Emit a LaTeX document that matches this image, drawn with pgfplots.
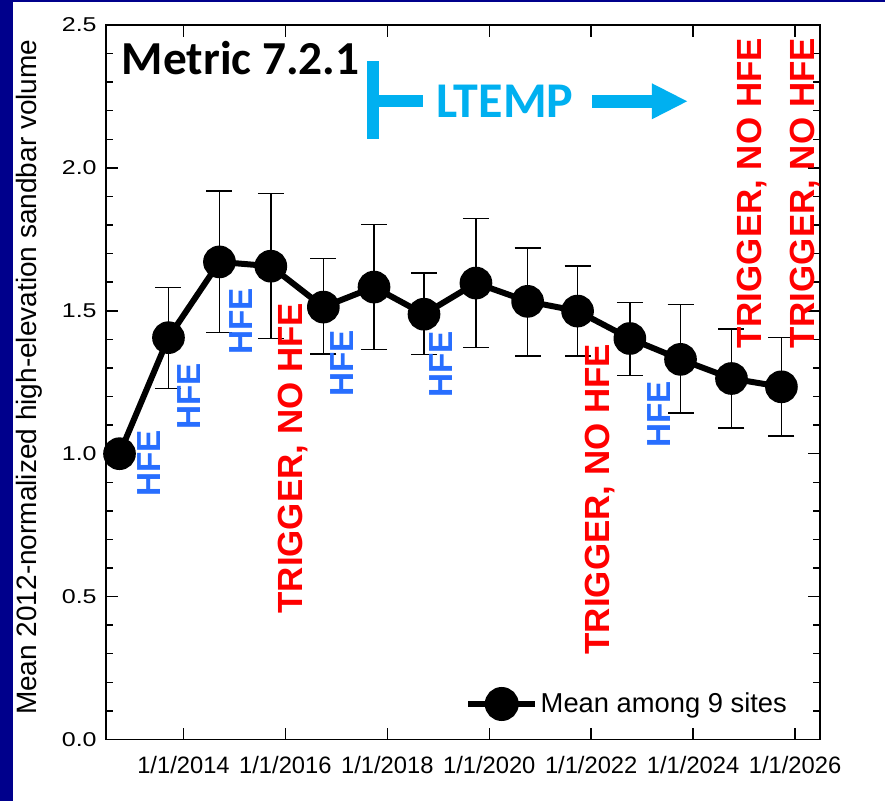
\documentclass[border=0pt]{standalone}
\usepackage{fontspec}
\setmainfont{Liberation Sans}
\newfontfamily\calibri{Carlito}
\newfontfamily\ytfont[FakeStretch=1.25]{Liberation Sans}
\usepackage{pgfplots}
\usepackage{pgfplotstable}
\pgfplotsset{compat=1.18}

\definecolor{navy}{RGB}{0,0,140}
\definecolor{hfeblue}{RGB}{40,110,255}
\definecolor{ltempblue}{RGB}{0,176,240}

% mean normalized volume, with upper / lower error
\pgfplotstableread{
x        y      ep     em
2012.745 1.000  0.000  0.000
2013.706 1.406  0.175  0.178
2014.706 1.671  0.248  0.247
2015.714 1.656  0.255  0.253
2016.745 1.513  0.170  0.165
2017.739 1.583  0.219  0.219
2018.720 1.488  0.144  0.141
2019.739 1.597  0.225  0.226
2020.753 1.533  0.187  0.191
2021.733 1.499  0.157  0.157
2022.759 1.403  0.126  0.129
2023.753 1.330  0.192  0.187
2024.753 1.263  0.173  0.173
2025.733 1.234  0.173  0.172
}\means

\begin{document}
\begin{tikzpicture}[x=0.75pt,y=0.75pt,
  hfe/.style={rotate=90, text=hfeblue, font=\bfseries\fontsize{25}{29}\selectfont},
  trig/.style={rotate=90, text=red, font=\bfseries\fontsize{26.2}{30}\selectfont}]
\useasboundingbox (0,0) rectangle (885,801);
\fill[white] (0,0) rectangle (885,801);
\fill[navy] (0,0) rectangle (13,801);
\fill[navy] (0,799) rectangle (885,801);

\begin{axis}[
    at={(79.5pt,46.125pt)}, anchor=south west,
    scale only axis,
    width=535.5pt, height=535.9pt,
    xmin=2012.48, xmax=2026.49,
    ymin=0, ymax=2.5,
    xtick={2014,2016,...,2026},
    xticklabels={1/1/2014,1/1/2016,1/1/2018,1/1/2020,1/1/2022,1/1/2024,1/1/2026},
    ytick={0,0.5,...,2.5},
    minor y tick num=4,
    tick align=inside,
    major tick length=9pt,
    minor tick length=5pt,
    axis line style={line width=1.1pt},
    every tick/.style={black, line width=1.1pt},
    /pgf/number format/assume math mode=true,
    yticklabel style={/pgf/number format/fixed, /pgf/number format/fixed zerofill,
        /pgf/number format/precision=1, font=\ytfont\fontsize{15}{18}\selectfont, xshift=-3.5pt},
    xticklabel style={font=\fontsize{17.8}{21}\selectfont, yshift=-9pt},
    ylabel={Mean 2012-normalized high-elevation sandbar volume},
    ylabel style={at={(axis description cs:-0.108,0.507)}, anchor=center,
        font=\fontsize{21}{25}\selectfont},
    legend style={at={(axis description cs:0.503,0.0497)}, anchor=west,
        draw=none, fill=none, inner sep=0pt,
        font=\fontsize{20.5}{24}\selectfont},
    legend image code/.code={
        \draw[black, line width=4.5pt] (0pt,0pt) -- (50pt,0pt);
        \fill[black] (25pt,0pt) circle (10.5pt);},
    clip=false,
]
\addplot[black, line width=4.5pt, mark=*, mark size=10pt,
    error bars/.cd, y dir=both, y explicit,
    error bar style={line width=1.1pt},
    error mark options={rotate=90, mark size=9.75pt, line width=1.1pt}]
    table[x=x, y=y, y error plus=ep, y error minus=em] {\means};
\addlegendentry{Mean among 9 sites}

% annotations
\node[anchor=base west, font=\calibri\bfseries\fontsize{35.5}{40}\selectfont]
    at (axis cs:2012.700,2.327) {Metric 7.2.1};
\node[font=\calibri\bfseries\fontsize{37.5}{42}\selectfont, text=ltempblue]
    at (axis cs:2020.308,2.233) {LTEMP};
\fill[ltempblue] (axis cs:2017.596,2.102) rectangle (axis cs:2017.837,2.373);
\fill[ltempblue] (axis cs:2017.837,2.212) rectangle (axis cs:2018.708,2.254);
\fill[ltempblue] (axis cs:2022.008,2.210) rectangle (axis cs:2023.200,2.256);
\fill[ltempblue] (axis cs:2023.190,2.296) -- (axis cs:2023.882,2.233) -- (axis cs:2023.190,2.170) -- cycle;

\node[hfe] at (axis cs:2013.327,0.967) {HFE};
\node[hfe] at (axis cs:2014.112,1.201) {HFE};
\node[hfe] at (axis cs:2015.131,1.463) {HFE};
\node[trig] at (axis cs:2016.141,0.984) {TRIGGER, NO HFE};
\node[hfe] at (axis cs:2017.106,1.316) {HFE};
\node[hfe] at (axis cs:2019.053,1.313) {HFE};
\node[trig] at (axis cs:2022.171,0.841) {TRIGGER, NO HFE};
\node[hfe] at (axis cs:2023.327,1.138) {HFE};
\node[trig] at (axis cs:2025.161,1.911) {TRIGGER, NO HFE};
\node[trig] at (axis cs:2026.190,1.911) {TRIGGER, NO HFE};
\end{axis}
\end{tikzpicture}
\end{document}
